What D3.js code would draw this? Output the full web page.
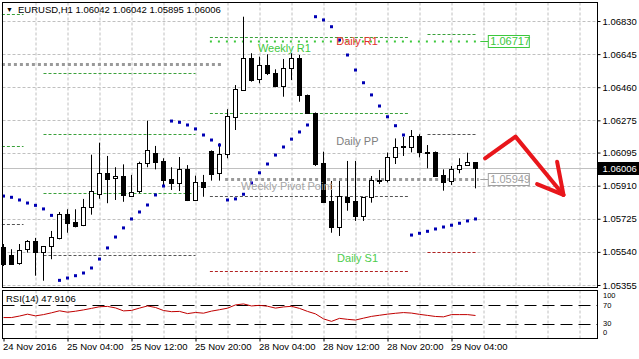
<!DOCTYPE html>
<html>
<head>
<meta charset="utf-8">
<script src="https://d3js.org/d3.v7.min.js"></script>
<style>
  html, body { margin: 0; padding: 0; background: #fff; }
  svg { display: block; }
  text { font-family: Tahoma, "Liberation Sans", Arial, sans-serif; font-size: 9.5px; fill: #000; }
</style>
</head>
<body>
<script>
const WIDTH = 639;
const HEIGHT = 359;

// EURUSD H1, 24 Nov 20:00 .. 29 Nov 07:00
const opens = [1.05567,1.05521,1.05474,1.05552,1.05599,1.05538,1.05569,1.05616,1.05752,1.05705,
  1.05686,1.05789,1.05860,1.05982,1.05949,1.05964,1.05856,1.05876,1.06035,1.06091,
  1.06048,1.05946,1.05923,1.06001,1.05826,1.05929,1.06102,1.05979,1.06085,1.06295,
  1.06444,1.06622,1.06504,1.06582,1.06538,1.06467,1.06566,1.06622,1.06417,1.06318,
  1.06035,1.05824,1.05677,1.05848,1.05826,1.05741,1.05845,1.05942,1.05939,1.06068,
  1.06132,1.06124,1.06187,1.06100,1.06098,1.05970,1.05932,1.06001,1.06025,1.06042];
const highs = [1.05584,1.05555,1.05584,1.05606,1.05618,1.05573,1.05657,1.05763,1.05778,1.05778,
  1.05836,1.06083,1.06150,1.06076,1.06013,1.06029,1.05970,1.06044,1.06273,1.06132,
  1.06063,1.06013,1.06070,1.06025,1.05966,1.05970,1.06107,1.06147,1.06337,1.06472,
  1.06854,1.06650,1.06631,1.06644,1.06560,1.06618,1.06650,1.06640,1.06419,1.06319,
  1.06100,1.05936,1.05936,1.06048,1.06048,1.05846,1.05964,1.05998,1.06095,1.06174,
  1.06182,1.06221,1.06197,1.06137,1.06101,1.06001,1.06020,1.06063,1.06094,1.06042];
const lows = [1.05461,1.05470,1.05468,1.05536,1.05407,1.05379,1.05499,1.05610,1.05647,1.05677,
  1.05684,1.05748,1.05837,1.05812,1.05830,1.05820,1.05847,1.05867,1.06013,1.06001,
  1.05904,1.05886,1.05880,1.05824,1.05824,1.05848,1.05938,1.05938,1.06063,1.06221,
  1.06442,1.06491,1.06482,1.06528,1.06460,1.06407,1.06500,1.06379,1.06313,1.06020,
  1.05813,1.05647,1.05629,1.05770,1.05713,1.05713,1.05815,1.05919,1.05928,1.06031,
  1.06076,1.06096,1.06068,1.06007,1.05961,1.05882,1.05914,1.05979,1.06024,1.05895];
const closes = [1.05472,1.05471,1.05549,1.05599,1.05536,1.05571,1.05622,1.05750,1.05701,1.05685,
  1.05789,1.05879,1.05979,1.05949,1.05962,1.05856,1.05876,1.06035,1.06108,1.06038,
  1.05942,1.05921,1.06001,1.05826,1.05929,1.05901,1.05972,1.06087,1.06299,1.06450,
  1.06622,1.06500,1.06584,1.06538,1.06467,1.06566,1.06622,1.06417,1.06314,1.06031,
  1.05815,1.05681,1.05852,1.05820,1.05741,1.05845,1.05942,1.05944,1.06070,1.06124,
  1.06134,1.06187,1.06100,1.06096,1.05964,1.05932,1.06001,1.06025,1.06042,1.06006];

// parabolic SAR
const sar = [1.05852,1.05845,1.05830,1.05813,1.05800,1.05780,1.05744,1.05381,1.05394,1.05407,
  1.05422,1.05450,1.05500,1.05562,1.05623,1.05674,1.05724,1.05763,1.05802,1.05858,
  1.05908,1.06271,1.06264,1.06249,1.06227,1.06193,1.06165,1.06137,1.05830,1.05836,
  1.05862,1.05925,1.05982,1.06031,1.06081,1.06126,1.06170,1.06210,1.06249,1.06854,
  1.06836,1.06798,1.06724,1.06640,1.06556,1.06485,1.06417,1.06355,1.06295,1.06245,
  1.06193,1.05634,1.05644,1.05655,1.05668,1.05679,1.05689,1.05700,1.05713,1.05724];

// RSI(14)
const rsi = [43.5,43.5,46.7,50.7,47.1,49.8,53.6,57.9,54.9,57.0,
  59.8,63.0,66.5,67.2,64.0,57.7,58.7,63.6,68.2,64.9,
  58.5,56.0,56.6,51.9,54.3,52.8,57.2,60.2,63.4,70.4,
  72.5,68.2,69.5,67.6,63.6,66.1,67.4,63.0,56.6,51.3,
  40.7,35.4,41.8,39.7,38.2,42.2,46.0,48.4,50.7,52.6,
  54.1,53.0,50.3,48.1,45.8,45.0,49.8,49.8,49.8,47.9];

const priceTicks = [1.06830,1.06645,1.06460,1.06275,1.06095,1.05910,1.05725,1.05540,1.05355];
const timeLabels = ["24 Nov 2016","25 Nov 04:00","25 Nov 12:00","25 Nov 20:00",
  "28 Nov 04:00","28 Nov 12:00","28 Nov 20:00","29 Nov 04:00"];
const timeBars = [0,8,16,24,32,40,48,56];
const rsiLevels = [70,30];
const rsiTicks = [100,70,30,0];

// pivot segments: [price, fromBar, toBar]
const greenPivots = [[1.06869,-0.2,2.5],[1.06132,-0.2,2.5],
  [1.06539,5,24],[1.06197,5,24],[1.05869,5,24],
  [1.06739,25.8,50.8],[1.06318,25.8,50.8],[1.06759,53,59]];
const grayPivots = [[1.05696,-0.2,2.5],[1.05521,5,24],[1.05852,25.8,50.8],[1.06197,53,59]];
const redPivots = [[1.05432,25.8,50.8],[1.05538,53,59]];
const weeklyOld = [[1.06590,-0.2,27.3]];
const weeklyPP = [1.05949,27.7,59.4];
const weeklyR1 = [1.06717,25.8,59.4];

// [text, bar, price]
const pivotTexts = [["Weekly R1",31.8,1.06679],["Daily R1",41.6,1.06715],["Daily PP",41.6,1.06160],
  ["Weekly Pivot Point",29.7,1.05908],["Daily S1",41.7,1.05503]];

const lastBid = 1.06006;
const header = "EURUSD,H1 1.06042 1.06042 1.05895 1.06006";
const rsiName = "RSI(14) 47.9106";

// hand drawn arrow [bar, price]
const arrowPath = [[60.2,1.06063],[64.0,1.06184],[70.0,1.05858]];
const arrowHead = [[69.2,1.06044],[70.0,1.05858],[66.7,1.05919]];

const x = d3.scaleLinear().domain([0, 74]).range([3.5, 595.5]);
const y = d3.scaleLinear().domain([1.05355, 1.06830]).range([285, 21]);
const yr = d3.scaleLinear().domain([0, 100]).range([338, 291]);

const LEFT = 2.5, RIGHT = 597.5, TOP = 2.5, MAINB = 287.5, RSIT = 290.5, RSIB = 338.5;

const svg = d3.select("body").append("svg")
  .attr("width", WIDTH)
  .attr("height", HEIGHT);

const gridColor = "#c0c0c0";

const drawGrid = () => {
  const g = svg.append("g").attr("stroke", gridColor).attr("stroke-dasharray", "3,2");
  const vx = d3.range(4, 75, 4).map(d => Math.round(x(d)) - 0.5 + 0.5);
  g.selectAll(".vm").data(vx).join("line")
    .attr("x1", d => d).attr("x2", d => d).attr("y1", TOP).attr("y2", MAINB);
  g.selectAll(".vr").data(vx).join("line")
    .attr("x1", d => d).attr("x2", d => d).attr("y1", RSIT).attr("y2", RSIB);
  g.selectAll(".h").data(priceTicks).join("line")
    .attr("x1", LEFT).attr("x2", RIGHT)
    .attr("y1", d => Math.round(y(d)) + 0.5).attr("y2", d => Math.round(y(d)) + 0.5);
};

const segLine = (g, data, color, dash, width) => {
  g.selectAll(null).data(data).join("line")
    .attr("x1", d => x(d[1])).attr("x2", d => x(d[2]))
    .attr("y1", d => Math.round(y(d[0])) + 0.5).attr("y2", d => Math.round(y(d[0])) + 0.5)
    .attr("stroke", color).attr("stroke-width", width).attr("stroke-dasharray", dash);
};

const drawPivots = () => {
  const g = svg.append("g");
  segLine(g, greenPivots, "#3aa13a", "3,2", 1);
  segLine(g, grayPivots, "#555", "3,2", 1);
  segLine(g, redPivots, "#b22222", "3,2", 1);
  segLine(g, weeklyOld, "#9a9a9a", "3,3", 3);
  segLine(g, [weeklyPP], "#9a9a9a", "3,3", 3);
  segLine(g, [weeklyR1], "#3cc83c", "2,6", 2);
};

const drawBid = () => {
  const yy = Math.round(y(lastBid)) + 0.5;
  svg.append("line").attr("x1", LEFT).attr("x2", RIGHT).attr("y1", yy).attr("y2", yy)
    .attr("stroke", "#c0c0c0");
};

const drawCandles = () => {
  const data = d3.range(opens.length);
  const g = svg.append("g");
  g.selectAll("line").data(data).join("line")
    .attr("x1", i => x(i)).attr("x2", i => x(i))
    .attr("y1", i => y(highs[i])).attr("y2", i => y(lows[i]))
    .attr("stroke", "#000");
  g.selectAll("rect").data(data).join("rect")
    .attr("x", i => x(i) - 2)
    .attr("width", 4)
    .attr("y", i => Math.round(y(Math.max(opens[i], closes[i]))) + 0.5)
    .attr("height", i => Math.max(1, Math.round(Math.abs(y(opens[i]) - y(closes[i])))))
    .attr("fill", i => closes[i] >= opens[i] ? "#fff" : "#000")
    .attr("stroke", "#000");
};

const drawSar = () => {
  svg.append("g").selectAll("rect").data(sar).join("rect")
    .attr("x", (d, i) => x(i) - 1.5)
    .attr("y", d => y(d) - 1.5)
    .attr("width", 3).attr("height", 3)
    .attr("fill", "#0000b4");
};

const drawPivotTexts = () => {
  const colors = { "Weekly R1": "#3ec83e", "Daily R1": "#e0302a", "Daily PP": "#808080",
    "Weekly Pivot Point": "#a6a6a6", "Daily S1": "#4ccc4c" };
  svg.append("g").selectAll("text").data(pivotTexts).join("text")
    .attr("x", d => x(d[1]))
    .attr("y", d => y(d[2]))
    .attr("dy", "0.35em")
    .style("font-size", "11px")
    .style("fill", d => colors[d[0]])
    .text(d => d[0]);
};

const priceBox = (level, stroke) => {
  const g = svg.append("g");
  const yy = Math.round(y(level)) + 0.5;
  const bx = x(59.6);
  g.append("line").attr("x1", bx).attr("x2", bx + 8).attr("y1", yy).attr("y2", yy).attr("stroke", stroke);
  g.append("rect").attr("x", bx + 8).attr("y", yy - 6).attr("width", 41).attr("height", 12)
    .attr("fill", "#fff").attr("stroke", stroke);
  g.append("text").attr("x", bx + 10).attr("y", yy).attr("dy", "0.35em")
    .style("font-size", "11px").style("fill", stroke).text(level.toFixed(5));
};

const drawArrow = () => {
  const line = d3.line().x(d => x(d[0])).y(d => y(d[1]));
  const g = svg.append("g").attr("fill", "none").attr("stroke", "#e8161b")
    .attr("stroke-width", 4).attr("stroke-linecap", "round").attr("stroke-linejoin", "round");
  g.append("path").attr("d", line(arrowPath));
  g.append("path").attr("d", line(arrowHead));
};

const drawRsi = () => {
  const g = svg.append("g");
  g.selectAll("line").data(rsiLevels).join("line")
    .attr("x1", LEFT).attr("x2", RIGHT)
    .attr("y1", d => Math.round(yr(d)) + 0.5).attr("y2", d => Math.round(yr(d)) + 0.5)
    .attr("stroke", "#000").attr("stroke-dasharray", "12,6");
  g.append("path")
    .datum(rsi)
    .attr("d", d3.line().x((d, i) => x(i)).y(d => yr(d)))
    .attr("fill", "none").attr("stroke", "#c00000");
  g.append("text").attr("x", 6).attr("y", 299).attr("dy", "0.35em").text(rsiName);
  // labels nudged inside the panel like the terminal does
  const labelY = { 100: 295.5, 70: 305, 30: 323, 0: 332.5 };
  g.selectAll(".rt").data(rsiTicks).join("text")
    .attr("x", 603)
    .attr("y", d => labelY[d])
    .attr("dy", "0.35em")
    .style("font-size", "7.5px")
    .text(d => d);
};

const drawFrames = () => {
  const g = svg.append("g").attr("fill", "none").attr("stroke", "#000");
  g.append("rect").attr("x", LEFT).attr("y", TOP).attr("width", RIGHT - LEFT).attr("height", MAINB - TOP);
  g.append("rect").attr("x", LEFT).attr("y", RSIT).attr("width", RIGHT - LEFT).attr("height", RSIB - RSIT);
};

const drawAxes = () => {
  const right = d3.axisRight(y).tickValues(priceTicks).tickSize(3).tickFormat(d3.format(".5f"));
  svg.append("g").attr("transform", `translate(${RIGHT},0)`).call(right)
    .call(g => g.select(".domain").remove())
    .call(g => g.selectAll("text").attr("x", 5))
    .attr("font-family", null).attr("font-size", null);

  const bottom = d3.axisBottom(x).tickValues(timeBars).tickSize(3).tickFormat((d, i) => timeLabels[i]);
  svg.append("g").attr("transform", `translate(0,${RSIB})`).call(bottom)
    .call(g => g.select(".domain").remove())
    .call(g => g.selectAll("text").attr("text-anchor", "start").attr("x", -1).attr("y", 5))
    .attr("font-family", null).attr("font-size", null);

  // bid price label
  const yy = Math.round(y(lastBid)) + 0.5;
  svg.append("rect").attr("x", RIGHT).attr("y", yy - 6.5).attr("width", WIDTH - RIGHT).attr("height", 13).attr("fill", "#000");
  svg.append("text").attr("x", RIGHT + 5).attr("y", yy).attr("dy", "0.35em")
    .style("fill", "#fff").text(lastBid.toFixed(5));
};

const drawHeader = () => {
  svg.append("text").attr("x", 6).attr("y", 10).attr("dy", "0.35em").style("font-size", "7px").text("\u25BC");
  svg.append("text").attr("x", 18).attr("y", 10).attr("dy", "0.35em").text(header);
};

const render = () => {
  drawGrid();
  drawPivots();
  drawBid();
  drawCandles();
  drawSar();
  drawPivotTexts();
  priceBox(weeklyR1[0], "#3cc83c");
  priceBox(weeklyPP[0], "#a0a0a0");
  drawArrow();
  drawRsi();
  drawFrames();
  drawAxes();
  drawHeader();
};

render();
</script>
</body>
</html>
